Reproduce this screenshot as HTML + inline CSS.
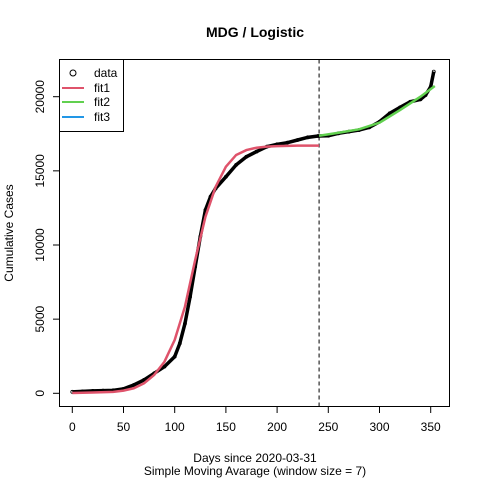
<!DOCTYPE html>
<html><head><meta charset="utf-8"><style>body{margin:0;background:#fff}svg{font-family:"Liberation Sans",Arial,sans-serif}</style></head>
<body>
<svg id="c" width="480" height="480" xmlns="http://www.w3.org/2000/svg">
<text x="255" y="37" text-anchor="middle" font-size="14" font-weight="bold">MDG / Logistic</text>
<rect x="59.5" y="59.5" width="390" height="347" fill="none" stroke="#000"/>
<g id="axes"></g>
<g id="marks"></g>
<text x="255" y="462" text-anchor="middle" font-size="12">Days since 2020-03-31</text>
<text x="255" y="475" text-anchor="middle" font-size="12">Simple Moving Avarage (window size = 7)</text>
<text transform="translate(13,233) rotate(-90)" text-anchor="middle" font-size="12">Cumulative Cases</text>
<g>
<rect x="59.5" y="59.5" width="64" height="72" fill="#fff" stroke="#000"/>
<circle cx="73" cy="73" r="3" fill="none" stroke="#000"/>
<text x="94" y="77" font-size="12">data</text>
<line x1="62" y1="88" x2="84" y2="88" stroke="#DF536B" stroke-width="2"/>
<text x="94" y="92" font-size="12">fit1</text>
<line x1="62" y1="102" x2="84" y2="102" stroke="#61D04F" stroke-width="2"/>
<text x="94" y="106" font-size="12">fit2</text>
<line x1="62" y1="117" x2="84" y2="117" stroke="#2297E6" stroke-width="2"/>
<text x="94" y="121" font-size="12">fit3</text>
</g>
</svg>
<script>
const dataDays=[0,10,20,30,40,50,60,70,80,90,100,105,110,115,120,125,130,135,140,150,160,170,180,190,200,210,220,230,240,250,260,270,280,290,300,310,320,330,340,345,350,353];
const dataVals=[100,130,160,180,200,300,560,900,1350,1800,2470,3370,4700,6500,8540,10560,12360,13260,13820,14600,15400,15950,16300,16630,16790,16900,17080,17260,17350,17370,17530,17640,17750,17930,18310,18880,19280,19660,19820,20110,20670,21690];
const fit1Days=[0,20,40,50,60,70,80,90,100,110,120,130,140,150,160,170,180,190,200,220,241];
const fit1Vals=[20,50,100,180,340,670,1240,2130,3600,5840,8990,11900,13930,15280,16070,16400,16560,16630,16670,16700,16700];
const fit2Days=[241,260,280,300,320,340,354];
const fit2Vals=[17370,17570,17800,18250,19100,20000,20720];
const xTicks=[0,50,100,150,200,250,300,350];
const yTicks=[0,5000,10000,15000,20000];
const cutDay=241;
const X=d=>72.3+d*1.024, Y=v=>393.3-v*296.6/20000;
const NS='http://www.w3.org/2000/svg';
const ax=document.getElementById('axes'), mk=document.getElementById('marks');
function el(t,a,p){const e=document.createElementNS(NS,t);for(const k in a)e.setAttribute(k,a[k]);p.appendChild(e);return e;}
let l=el('line',{x1:X(0),x2:X(350),y1:406.5,y2:406.5,stroke:'#000'},ax);


xTicks.forEach(t=>{el('line',{x1:X(t),x2:X(t),y1:406.5,y2:413,stroke:'#000'},ax);
const tx=el('text',{x:X(t),y:431,'text-anchor':'middle','font-size':12},ax);tx.textContent=t;

});
l=el('line',{x1:59.5,x2:59.5,y1:Y(0),y2:Y(20000),stroke:'#000'},ax);


yTicks.forEach(t=>{el('line',{x1:53,x2:59.5,y1:Y(t),y2:Y(t),stroke:'#000'},ax);
const tx=el('text',{transform:`translate(44,${Y(t)}) rotate(-90)`,'text-anchor':'middle','font-size':12},ax);tx.textContent=t;

});
const pts=(ds,vs)=>ds.map((d,i)=>X(d)+','+Y(vs[i])).join(' ');
l=el('polyline',{points:pts(dataDays,dataVals),fill:'none',stroke:'#000','stroke-width':3.5},mk);


dataDays.forEach((d,i)=>{const c=el('circle',{cx:X(d),cy:Y(dataVals[i]),r:1.5,fill:'none',stroke:'#000','stroke-width':0.8},mk);

});
l=el('line',{x1:X(cutDay),x2:X(cutDay),y1:59.5,y2:406.5,stroke:'#000','stroke-dasharray':'4,3'},mk);


l=el('polyline',{points:pts(fit1Days,fit1Vals),fill:'none',stroke:'#DF536B','stroke-width':2.5},mk);


l=el('polyline',{points:pts(fit2Days,fit2Vals),fill:'none',stroke:'#61D04F','stroke-width':2.5},mk);


</script>
</body></html>
